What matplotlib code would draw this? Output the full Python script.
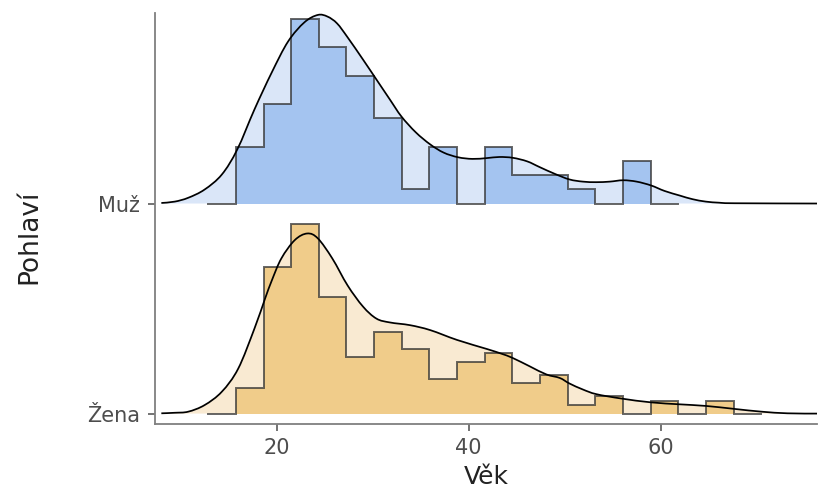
import numpy as np
import matplotlib.pyplot as plt
from matplotlib.path import Path
from matplotlib.patches import PathPatch

# bin edges of the histogram (age, years)
bin_start = 12.88
bin_width = 2.88

# counts per bin
muz_counts = [0, 4, 7, 13, 11, 9, 6, 1, 4, 0, 4, 2, 2, 1, 0, 3, 0]
zena_counts = [0, 6, 34, 44, 27, 13, 19, 15, 8, 12, 14, 7, 9, 2, 4, 0, 3, 0, 3, 0]

# density curves (age, density in % per year)
muz_x = [8.0, 9.4, 10.8, 12.5, 14.3, 15.9, 17.7, 19.5, 21.2, 22.9, 24.3, 25.3,
         26.3, 27.4, 29.0, 30.4, 31.8, 33.0, 34.5, 36.0, 37.4, 38.9, 40.4, 41.9,
         43.2, 44.6, 46.1, 47.4, 49.0, 50.5, 51.9, 53.3, 54.7, 56.1, 57.5, 59.0,
         60.4, 62.0, 63.3, 64.7, 66.1, 67.7, 76.3]
muz_d = [0.02, 0.07, 0.21, 0.51, 1.06, 1.97, 3.44, 4.79, 5.92, 6.62, 6.89, 6.83,
         6.58, 6.07, 5.26, 4.53, 3.80, 3.18, 2.60, 2.16, 1.86, 1.69, 1.63, 1.66,
         1.70, 1.67, 1.54, 1.33, 1.08, 0.88, 0.80, 0.78, 0.80, 0.85, 0.80, 0.66,
         0.46, 0.29, 0.16, 0.07, 0.03, 0.01, 0.0]
zena_x = [8.0, 9.4, 10.8, 12.5, 14.3, 16.0, 17.7, 18.8, 19.5, 20.5, 21.9, 23.2,
          24.3, 25.8, 27.4, 29.0, 30.4, 31.8, 33.9, 36.0, 38.8, 41.9, 43.4, 44.6,
          46.4, 48.1, 49.5, 50.5, 51.9, 53.3, 55.9, 59.0, 61.9, 64.7, 67.7, 70.5,
          73.2, 76.3]
zena_d = [0.01, 0.03, 0.07, 0.31, 0.80, 1.64, 3.11, 4.20, 4.86, 5.67, 6.34, 6.58,
          6.40, 5.67, 4.68, 3.91, 3.47, 3.33, 3.23, 3.05, 2.69, 2.36, 2.19, 2.03,
          1.72, 1.43, 1.30, 1.10, 0.88, 0.71, 0.55, 0.41, 0.34, 0.28, 0.17, 0.07,
          0.01, 0.0]

groups = ['Žena', 'Muž']
ridges = [
    (zena_counts, zena_x, zena_d, '#f0cc8a', '#f9ead2'),
    (muz_counts, muz_x, muz_d, '#a4c4f0', '#dae6f8'),
]
scale = 0.1303  # ridge height per % density


def smooth_path(x, y):
    # bezier curve through the read points (catmull-rom)
    p = np.column_stack([x, y])
    verts = [p[0]]
    codes = [Path.MOVETO]
    for i in range(len(p) - 1):
        p0 = p[i - 1] if i > 0 else p[i]
        p3 = p[i + 2] if i + 2 < len(p) else p[i + 1]
        c1 = p[i] + (p[i + 1] - p0) / 6
        c2 = p[i + 1] - (p3 - p[i]) / 6
        verts += [c1, c2, p[i + 1]]
        codes += [Path.CURVE4] * 3
    return verts, codes


fig = plt.figure(figsize=(8.18, 4.92), dpi=100)
ax = fig.add_axes([0.1895, 0.1376, 0.8095, 0.836])

for i, (counts, dx, dd, dark, light) in enumerate(ridges):
    base = i + 1
    counts = np.array(counts, dtype=float)
    edges = bin_start + bin_width * np.arange(len(counts) + 1)
    dens = counts / (counts.sum() * bin_width) * 100
    verts, codes = smooth_path(dx, base + np.array(dd) * scale)
    # density fill
    fill_verts = verts + [(dx[-1], base), (dx[0], base), verts[0]]
    fill_codes = codes + [Path.LINETO, Path.LINETO, Path.CLOSEPOLY]
    ax.add_patch(PathPatch(Path(fill_verts, fill_codes), facecolor=light, lw=0, zorder=1))
    # histogram
    hy = np.append(dens, dens[-1]) * scale + base
    ax.fill_between(edges, base, hy, step='post', color=dark, lw=0, zorder=2)
    ax.plot(np.repeat(edges, 2)[1:-1], np.repeat(dens, 2) * scale + base,
            color='#333333', alpha=0.75, lw=1.4, zorder=3, solid_joinstyle='miter')
    # density line
    ax.add_patch(PathPatch(Path(verts, codes), facecolor='none', edgecolor='black',
                           lw=1.25, zorder=4))

ax.set_xlim(7.34, 76.3)
ax.set_ylim(0.949, 2.907)
ax.set_yticks([1, 2])
ax.set_yticklabels(groups)
ax.set_xticks([20, 40, 60])
for s in ['top', 'right']:
    ax.spines[s].set_visible(False)
for s in ['left', 'bottom']:
    ax.spines[s].set_color('#7f7f7f')
    ax.spines[s].set_linewidth(1.3)
ax.tick_params(colors='#4d4d4d', labelsize=15, length=5, width=1.1)
ax.tick_params(axis='x', pad=5)
ax.tick_params(axis='y', pad=6)

fig.text(0.5947, 0.03, 'Věk', ha='center', va='center', fontsize=18, color='#222222')
fig.text(0.036, 0.518, 'Pohlaví', ha='center', va='center', rotation=90,
         fontsize=19, color='#222222')

fig.savefig('out.png', dpi=100)
plt.close()
